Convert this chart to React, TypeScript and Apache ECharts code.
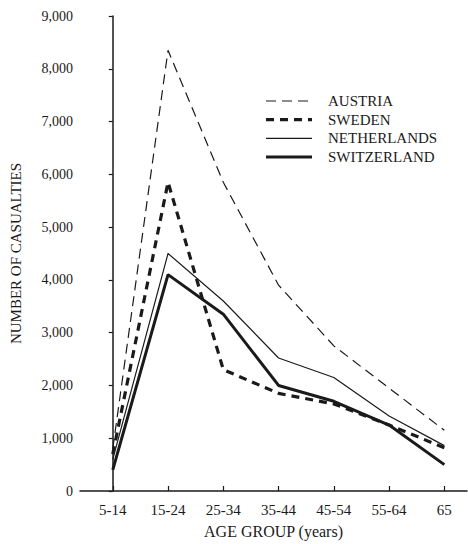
import React, { useEffect, useRef } from 'react';
import * as echarts from 'echarts';

const categories = ['5-14', '15-24', '25-34', '35-44', '45-54', '55-64', '65'];
const yTicks = [0, 1000, 2000, 3000, 4000, 5000, 6000, 7000, 8000, 9000];
const seriesNames = ['AUSTRIA', 'SWEDEN', 'NETHERLANDS', 'SWITZERLAND'];
const austria = [800, 8350, 5850, 3900, 2750, 1950, 1150];
const sweden = [700, 5850, 2300, 1850, 1650, 1250, 820];
const netherlands = [600, 4500, 3600, 2520, 2150, 1420, 860];
const switzerland = [400, 4100, 3350, 2000, 1700, 1250, 500];

const FONT = '"Liberation Serif", "DejaVu Serif", serif';
const INK = '#1a1a1a';

const styles = [
  { width: 1.2, dash: [10, 6] as number[] | null },
  { width: 3.2, dash: [8, 6] as number[] | null },
  { width: 1.2, dash: null },
  { width: 3, dash: null },
];

export default function App() {
  const ref = useRef<HTMLDivElement>(null);
  useEffect(() => {
    const chart = echarts.init(ref.current!, null, { renderer: 'svg' });
    const pairs = (arr: number[]) => arr.map((v, i) => [i, v]);
    const idx = categories.map((_, i) => i);
    const data = [austria, sweden, netherlands, switzerland];

    const legendGraphics: any[] = [];
    seriesNames.forEach((name, i) => {
      const y = 101 + i * 18.7;
      const s = styles[i];
      legendGraphics.push({
        type: 'line',
        shape: { x1: 266, y1: y, x2: 312, y2: y },
        style: { stroke: INK, lineWidth: s.width, lineDash: s.dash || undefined },
        silent: true,
      });
      legendGraphics.push({
        type: 'text',
        x: 328,
        y: y,
        style: {
          text: name,
          fill: INK,
          font: `15px ${FONT}`,
          textVerticalAlign: 'middle',
          verticalAlign: 'middle',
        },
        silent: true,
      });
    });

    chart.setOption({
      animation: false,
      backgroundColor: '#ffffff',
      textStyle: { fontFamily: FONT, color: INK },
      grid: { left: 77, right: 1, top: 16, bottom: 46, containLabel: false },
      graphic: legendGraphics,
      xAxis: {
        type: 'value',
        min: -0.593,
        max: 6.41,
        name: 'AGE GROUP (years)',
        nameLocation: 'middle',
        nameGap: 32,
        nameTextStyle: { fontFamily: FONT, fontSize: 16, color: INK },
        axisLine: { show: true, lineStyle: { color: INK, width: 1.5 } },
        axisTick: { show: true, inside: true, length: 5, customValues: idx, lineStyle: { color: INK, width: 1.2 } },
        axisLabel: {
          customValues: idx,
          margin: 11,
          fontFamily: FONT,
          fontSize: 15,
          color: INK,
          formatter: (v: number) => categories[Math.round(v)] ?? '',
        },
        splitLine: { show: false },
      },
      yAxis: {
        type: 'value',
        min: yTicks[0],
        max: yTicks[yTicks.length - 1],
        interval: 1000,
        name: 'NUMBER OF CASUALTIES',
        nameLocation: 'middle',
        nameRotate: 90,
        nameGap: 57,
        nameTextStyle: { fontFamily: FONT, fontSize: 15, color: INK },
        axisLine: { show: true, lineStyle: { color: INK, width: 1.5 } },
        axisTick: { show: true, inside: false, length: 4, lineStyle: { color: INK, width: 1.2 } },
        axisLabel: {
          margin: 7,
          fontFamily: FONT,
          fontSize: 14,
          color: INK,
          formatter: (v: number) => v.toLocaleString('en-US'),
        },
        splitLine: { show: false },
      },
      series: seriesNames.map((name, i) => ({
        name,
        type: 'line',
        data: pairs(data[i]),
        symbol: 'none',
        lineStyle: {
          color: INK,
          width: styles[i].width,
          type: styles[i].dash ? styles[i].dash : 'solid',
        },
        itemStyle: { color: INK },
      })),
    });
    return () => chart.dispose();
  }, []);
  return (
    <div
      ref={ref}
      style={{ position: 'fixed', left: 0, top: 0, width: 468, height: 544, background: '#fff' }}
    />
  );
}
